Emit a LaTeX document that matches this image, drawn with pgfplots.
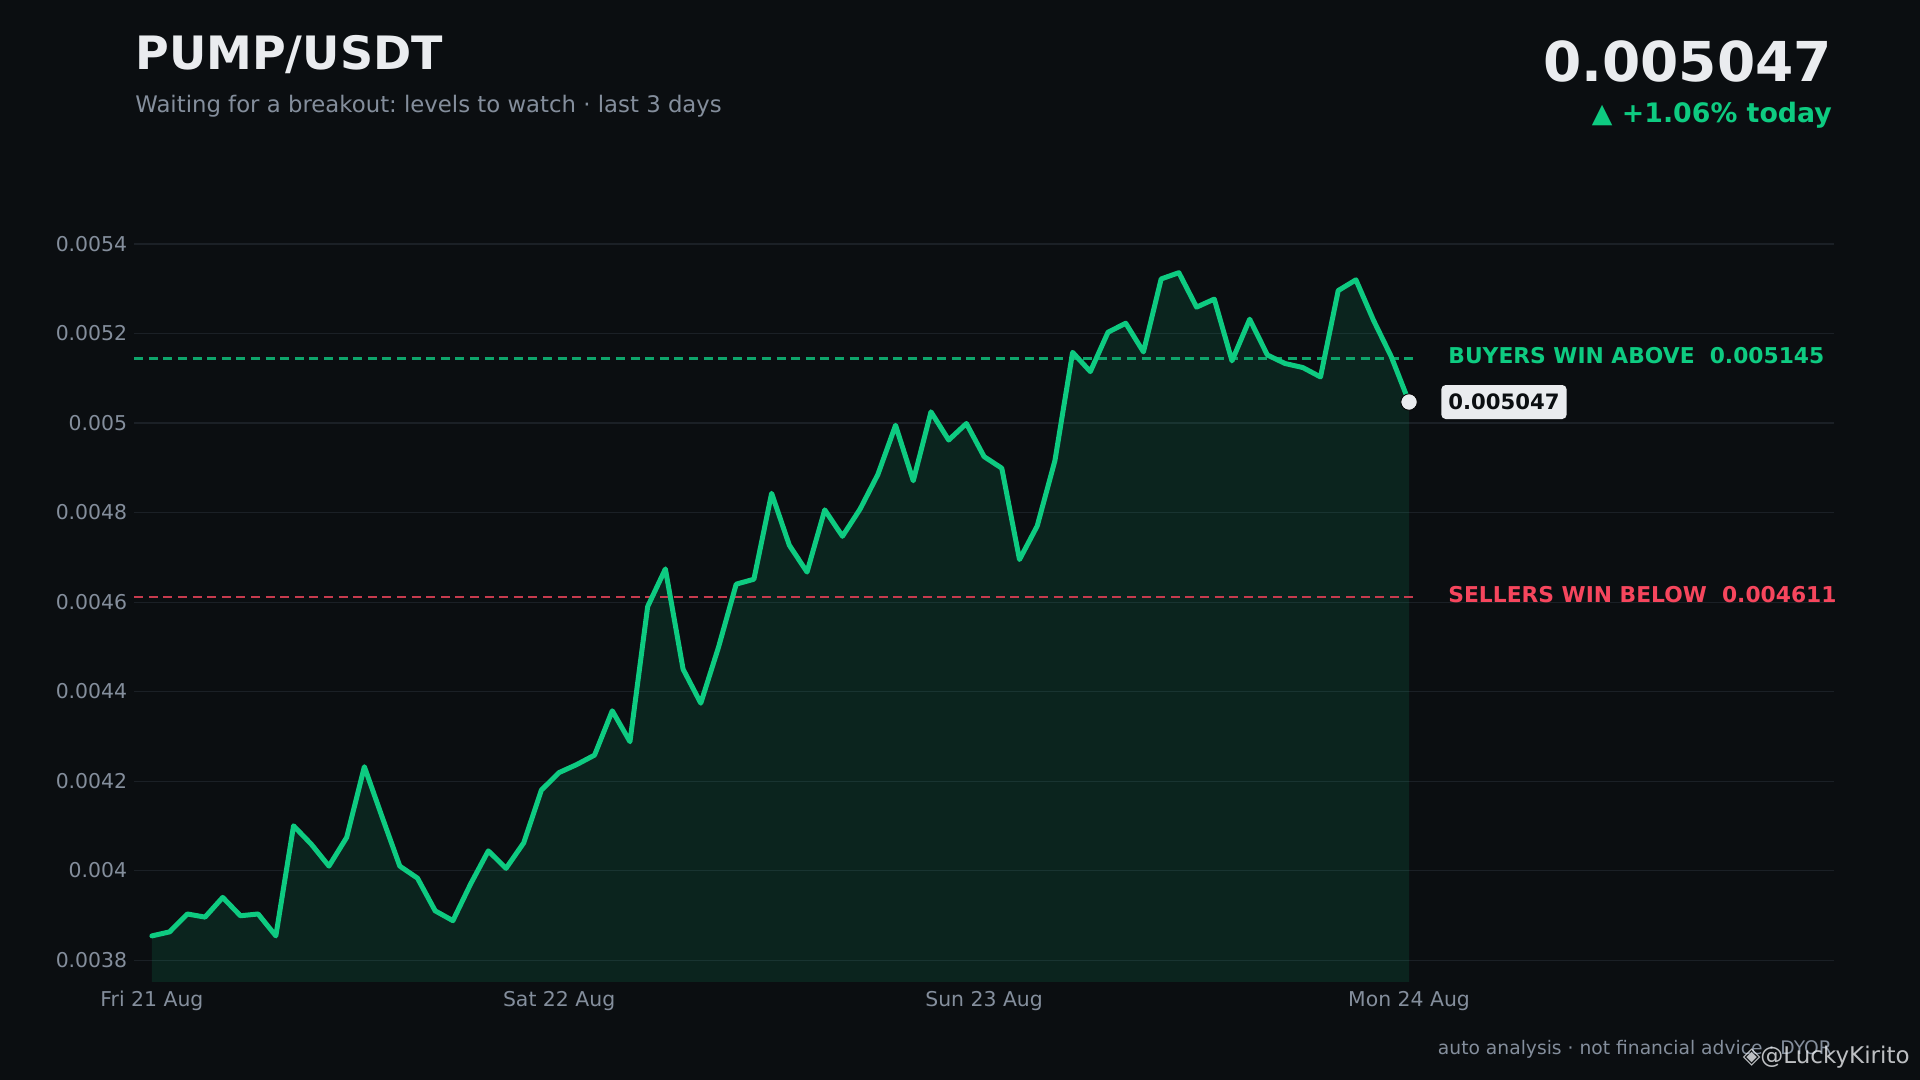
\documentclass[border=0pt]{standalone}
\usepackage{fontspec}
\setmainfont{DejaVu Sans}
\usepackage{pgfplots}
\usepackage{pgfplotstable}
\pgfplotsset{compat=1.18}
\frenchspacing
\definecolor{bg}{HTML}{0B0E11}
\definecolor{upgreen}{HTML}{0ECB81}
\definecolor{downred}{HTML}{F6465D}
\definecolor{txtgray}{HTML}{848E9C}
\definecolor{txtwhite}{HTML}{EAECEF}
\definecolor{gridc}{HTML}{1B2026}

\pgfplotstableread{
h y
1 0.003854
2 0.003863
3 0.003903
4 0.003896
5 0.003940
6 0.003899
7 0.003903
8 0.003854
9 0.004100
10 0.004059
11 0.004010
12 0.004074
13 0.004232
14 0.004120
15 0.004010
16 0.003983
17 0.003910
18 0.003888
19 0.003970
20 0.004044
21 0.004005
22 0.004062
23 0.004180
24 0.004219
25 0.004237
26 0.004258
27 0.004357
28 0.004288
29 0.004590
30 0.004674
31 0.004450
32 0.004374
33 0.004499
34 0.004640
35 0.004651
36 0.004843
37 0.004727
38 0.004667
39 0.004806
40 0.004747
41 0.004808
42 0.004885
43 0.004995
44 0.004871
45 0.005025
46 0.004962
47 0.004999
48 0.004925
49 0.004899
50 0.004695
51 0.004770
52 0.004916
53 0.005158
54 0.005115
55 0.005203
56 0.005223
57 0.005159
58 0.005322
59 0.005336
60 0.005259
61 0.005277
62 0.005139
63 0.005232
64 0.005152
65 0.005133
66 0.005124
67 0.005103
68 0.005296
69 0.005320
70 0.005229
71 0.005148
72 0.005047
}\pricedata

\begin{document}
\begin{tikzpicture}
\fill[bg] (-67.1pt,-49pt) rectangle (892.9pt,491pt);
\begin{axis}[
  at={(0,0)}, anchor=south west,
  scale only axis, width=849.9pt, height=377.7pt,
  xmin=0, xmax=96, ymin=0.003751, ymax=0.005439,
  axis line style={draw=none},
  major tick length=0pt, tick style={draw=none},
  xtick={1,24,48,72},
  xticklabels={Fri 21 Aug, Sat 22 Aug, Sun 23 Aug, Mon 24 Aug},
  ytick={0.0038,0.0040,0.0042,0.0044,0.0046,0.0048,0.0050,0.0052,0.0054},
  scaled y ticks=false,
  yticklabel style={/pgf/number format/fixed, /pgf/number format/precision=4,
    /pgf/number format/assume math mode=true,
    font=\fontsize{10.2}{12}\selectfont, text=txtgray},
  xticklabel style={font=\fontsize{10.2}{12}\selectfont, text=txtgray, yshift=-1pt},
  ymajorgrids, grid style={draw=gridc, line width=0.55pt},
  clip=true,
]
\addplot[draw=none, fill=upgreen, fill opacity=0.12] table[x=h,y=y]{\pricedata} \closedcycle;
\addplot[upgreen!80!bg, line width=1.35pt, dash pattern=on 4.5pt off 2.8pt] coordinates {(0,0.005145) (72.4,0.005145)};
\addplot[downred!80!bg, line width=1.35pt, dash pattern=on 4.5pt off 2.8pt] coordinates {(0,0.004611) (72.4,0.004611)};
\addplot[upgreen, line width=2.5pt, line join=round, line cap=round] table[x=h,y=y]{\pricedata};
\addplot[only marks, mark=*, mark size=4.1pt, mark options={fill=txtwhite, draw=none}] coordinates {(72,0.005047)};
\node[anchor=west, inner sep=0pt, text=upgreen, font=\bfseries\fontsize{10.9}{13}\selectfont] at (axis cs:74.2,0.005150) {BUYERS WIN ABOVE\ \ 0.005145};
\node[anchor=west, inner sep=0pt, text=downred, font=\bfseries\fontsize{10.9}{13}\selectfont] at (axis cs:74.2,0.004616) {SELLERS WIN BELOW\ \ 0.004611};
\node[anchor=west, fill=txtwhite, text=bg, rounded corners=2.2pt, inner xsep=3.5pt, inner ysep=0pt, minimum height=17pt, font=\bfseries\fontsize{10.6}{12}\selectfont] at (axis cs:73.8,0.005047) {0.005047};
\end{axis}
\node[anchor=base west, inner sep=0pt, text=txtwhite, font=\bfseries\fontsize{23}{27}\selectfont] at (0.4pt,456pt) {PUMP/USDT};
\node[anchor=base west, inner sep=0pt, text=txtgray, font=\fontsize{11.4}{14}\selectfont] at (0.4pt,434.7pt) {Waiting for a breakout: levels to watch · last 3 days};
\node[anchor=base east, inner sep=0pt, text=txtwhite, font=\bfseries\fontsize{27.5}{32}\selectfont] at (849pt,450.4pt) {0.005047};
\node[anchor=base east, inner sep=0pt, text=upgreen, font=\bfseries\fontsize{13.4}{16}\selectfont] at (849pt,429.8pt) {▲ +1.06\% today};
\node[anchor=base east, inner sep=0pt, text=txtgray, font=\fontsize{9.35}{11}\selectfont] at (849pt,-36.5pt) {auto analysis · not financial advice · DYOR};
\node[anchor=base east, inner sep=0pt, text=txtwhite, opacity=0.8, font=\fontsize{11.5}{13}\selectfont] at (887.9pt,-41pt) {◈@LuckyKirito};
\end{tikzpicture}
\end{document}
